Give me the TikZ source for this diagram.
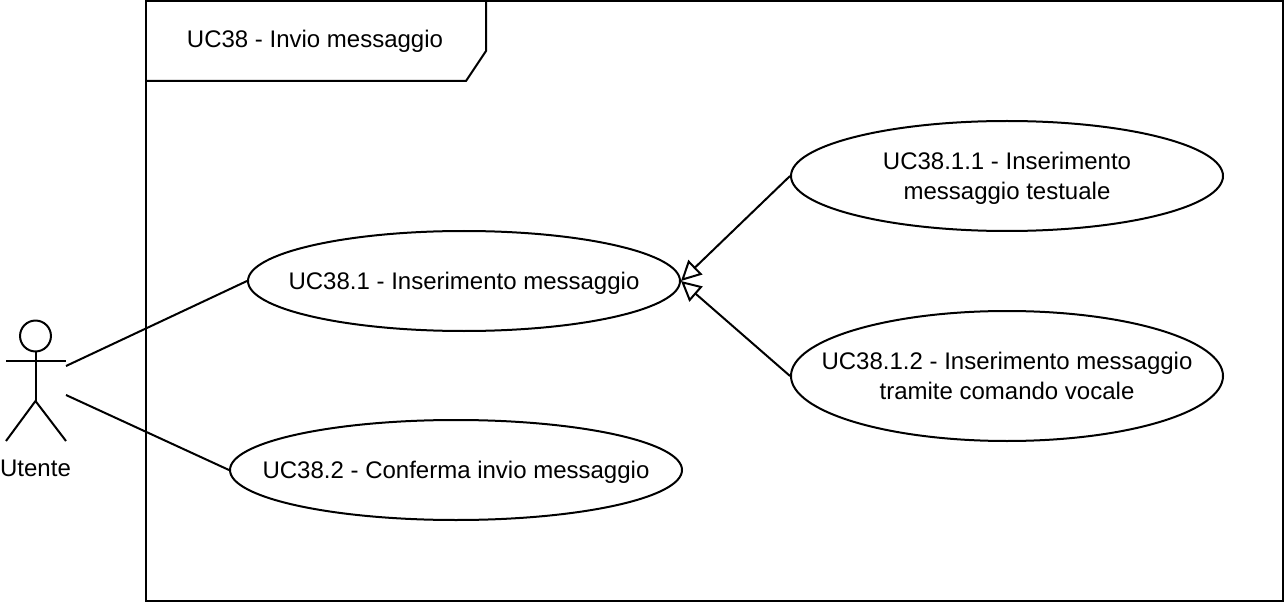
\documentclass[tikz,border=0pt]{standalone}
\usepackage{fontspec}
\setmainfont{Liberation Sans}
\usetikzlibrary{arrows.meta,shapes.geometric}
\tikzset{
    usecase/.style={ellipse, draw, line width=1.5pt, inner sep=-100pt, align=center, minimum width=324pt, text depth=0.8pt, font=\fontsize{18}{22.5}\selectfont},
    line/.style={line width=1.5pt},
    inherit/.style={line width=1.5pt, -{Triangle[open, length=15pt, width=15pt, line width=1.5pt]}},
    label/.style={font=\fontsize{18}{22.5}\selectfont}
}
\begin{document}
\begin{tikzpicture}[x=0.75pt, y=-0.75pt]
    \useasboundingbox (0, 0) rectangle (1284, 602);

    % Draw frame and its tab
    \draw[line] (146, 1) rectangle (1283, 601);
    \draw[line] (146, 81) -- (466, 81) -- (486, 51) -- (486, 1);
    \node[label] (title) at (315, 41) {UC38 - Invio messaggio};

    % Draw actor
    \draw[line] (35.5, 336) circle (11.6pt);
    \draw[line] (35.5, 351.5) -- (35.5, 401);
    \draw[line] (6, 361) -- (66, 361);
    \draw[line] (6, 441) -- (35.5, 401) -- (66, 441);
    \node[label] (utente) at (35.5, 468) {Utente};
    \coordinate (actorup) at (66, 366);
    \coordinate (actordown) at (66, 395);

    % Draw use cases
    \node[usecase, minimum height=75pt] (uc1) at (464, 281) {UC38.1 - Inserimento messaggio};
    \node[usecase, minimum width=339pt, minimum height=75pt] (uc2) at (456, 470) {UC38.2 - Conferma invio messaggio};
    \node[usecase, minimum height=82.5pt] (uc11) at (1007, 176) {UC38.1.1 - Inserimento\\messaggio testuale};
    \node[usecase, minimum height=97.5pt] (uc12) at (1007, 376) {UC38.1.2 - Inserimento messaggio\\tramite comando vocale};

    % Draw edges
    \draw[line] (actorup) -- (uc1.west);
    \draw[line] (actordown) -- (uc2.west);
    \draw[inherit] (uc11.west) -- (uc1.east);
    \draw[inherit] (uc12.west) -- (uc1.east);
\end{tikzpicture}
\end{document}
